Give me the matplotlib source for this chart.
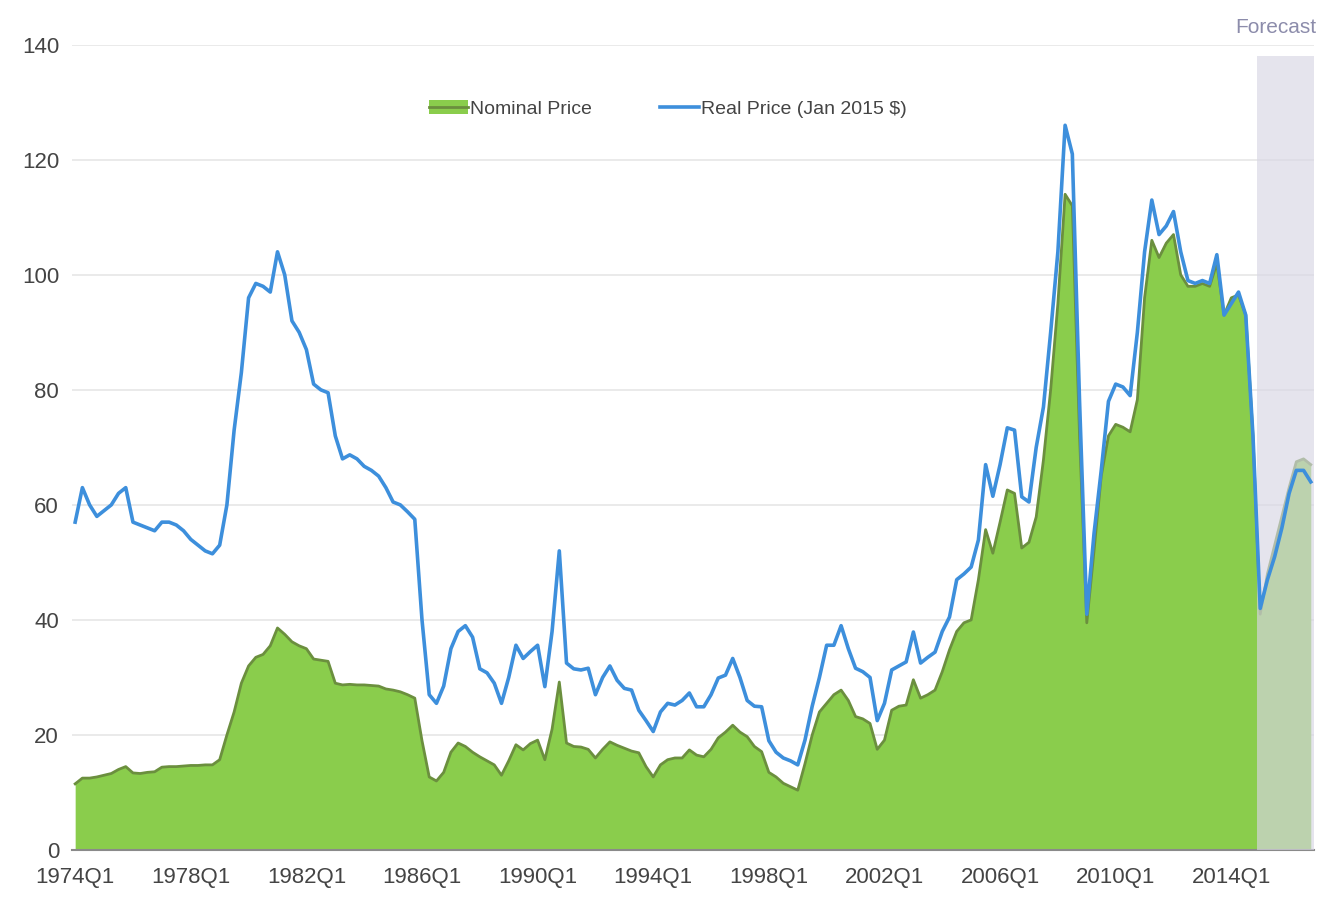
import matplotlib
matplotlib.use("Agg")
import matplotlib.pyplot as plt
from matplotlib.patches import Patch
from matplotlib.lines import Line2D

plt.rcParams['font.family'] = ['Liberation Sans Narrow', 'Liberation Sans', 'DejaVu Sans']

# quarterly data 1974Q1 .. 2016Q4 (forecast from 2015Q1)
first_year = 1974
last_year = 2016
forecast_start = "2015Q1"

# real price (Jan 2015 $), dollars per barrel
real_price = [
    57, 63, 60, 58, 59, 60, 62, 63,          # 1974-75
    57, 56.5, 56, 55.5, 57, 57, 56.5, 55.5,  # 1976-77
    54, 53, 52, 51.5, 53, 60, 73, 83,        # 1978-79
    96, 98.5, 98, 97, 104, 100, 92, 90,      # 1980-81
    87, 81, 80, 79.5, 72, 68, 68.7, 68,      # 1982-83
    66.7, 66, 65, 63, 60.5, 60, 58.8, 57.5,  # 1984-85
    40, 27, 25.5, 28.5, 35, 38, 39, 37,      # 1986-87
    31.5, 30.8, 29, 25.5, 30, 35.6, 33.3, 34.5,  # 1988-89
    35.6, 28.4, 38, 52, 32.5, 31.5, 31.3, 31.6,  # 1990-91
    27, 30, 32, 29.5, 28.1, 27.8, 24.3, 22.5,    # 1992-93
    20.6, 24, 25.5, 25.2, 26, 27.3, 24.9, 24.9,  # 1994-95
    27, 29.9, 30.4, 33.3, 30, 26, 25, 24.9,      # 1996-97
    19, 17, 16, 15.5, 14.8, 19.1, 25, 30,        # 1998-99
    35.6, 35.6, 39, 35, 31.6, 31, 30, 22.5,      # 2000-01
    25.5, 31.3, 32, 32.7, 37.9, 32.5, 33.5, 34.4,  # 2002-03
    38, 40.5, 47, 48, 49.2, 53.9, 67, 61.5,        # 2004-05
    67, 73.4, 73, 61.4, 60.5, 70, 77, 90,          # 2006-07
    104, 126, 121, 78, 41, 55, 66, 78,             # 2008-09
    81, 80.5, 79, 90, 104, 113, 107, 108.5,        # 2010-11
    111, 104, 99, 98.5, 99, 98.5, 103.5, 93,       # 2012-13
    95, 97, 93, 72, 42, 47, 51, 56,                # 2014-15
    62, 66, 66, 64,                                # 2016
]

# nominal price, dollars per barrel
nominal_price = [
    11.5, 12.5, 12.5, 12.7, 13, 13.3, 14, 14.5,
    13.4, 13.3, 13.5, 13.6, 14.4, 14.5, 14.5, 14.6,
    14.7, 14.7, 14.8, 14.8, 15.7, 20, 24, 29,
    32, 33.5, 34, 35.5, 38.6, 37.5, 36.2, 35.5,
    35, 33.2, 33, 32.8, 29, 28.7, 28.8, 28.7,
    28.7, 28.6, 28.5, 28, 27.8, 27.5, 27, 26.4,
    19, 12.7, 12, 13.5, 17, 18.6, 18, 17,
    16.2, 15.5, 14.8, 13, 15.5, 18.3, 17.4, 18.5,
    19.1, 15.7, 21, 29.2, 18.6, 18, 17.9, 17.5,
    16, 17.5, 18.8, 18.2, 17.7, 17.2, 16.9, 14.5,
    12.7, 14.8, 15.7, 16, 16, 17.4, 16.5, 16.2,
    17.5, 19.5, 20.5, 21.7, 20.5, 19.7, 18, 17.1,
    13.5, 12.7, 11.6, 11, 10.4, 15, 20, 24,
    25.5, 27, 27.8, 26, 23.2, 22.8, 22, 17.5,
    19.1, 24.3, 25, 25.2, 29.6, 26.4, 27, 27.8,
    31, 34.8, 38, 39.5, 40, 47, 55.7, 51.6,
    57, 62.6, 62, 52.5, 53.5, 57.9, 67.8, 80,
    95, 114, 112, 72, 39.5, 52, 65, 72,
    74, 73.5, 72.7, 78.3, 96, 106, 103, 105.5,
    107, 100, 98, 98, 98.5, 98, 102, 93,
    96, 96.5, 93, 72, 41, 48, 53, 58,
    63, 67.5, 68, 67,
]

quarters = ["{}Q{}".format(y, q) for y in range(first_year, last_year + 1) for q in range(1, 5)]
tick_labels = [q for q in quarters if q.endswith("Q1") and (int(q[:4]) - first_year) % 4 == 0]

x = list(range(len(quarters)))
fc_idx = quarters.index(forecast_start)

fig = plt.figure(figsize=(13.25, 9.13), dpi=100)
ax = fig.add_axes([0.054, 0.069, 0.938, 0.882])

# nominal price as a green area
ax.fill_between(x, nominal_price, 0, color="#8acd4c", linewidth=0, zorder=2)
ax.plot(x, nominal_price, color="#6b8f3e", linewidth=2, zorder=3)

# forecast band
ax.axvspan(fc_idx - 0.5, len(x) - 0.3, ymin=0, ymax=138 / 140, color="#d8d6e4",
           alpha=0.65, linewidth=0, zorder=4)
ax.text(len(x) - 0.2, 141.3, "Forecast", color="#8c8cab", fontsize=15,
        ha="right", va="bottom")

# real price line
ax.plot(x, real_price, color="#3d8fdc", linewidth=2.6, zorder=5)

ax.set_xlim(-0.5, len(x) - 0.5)
ax.set_ylim(0, 140)
ax.set_yticks(range(0, 141, 20))
ax.set_xticks([quarters.index(t) for t in tick_labels])
ax.set_xticklabels(tick_labels)
ax.tick_params(axis="both", length=0, labelsize=16, labelcolor="#444444")
ax.tick_params(axis="x", pad=12)
ax.tick_params(axis="y", pad=9)
ax.grid(axis="y", color="#e6e6e6", linewidth=1.2, zorder=0)
ax.set_axisbelow(True)
for side in ["top", "right", "left"]:
    ax.spines[side].set_visible(False)
ax.spines["bottom"].set_color("#8a8a8a")
ax.spines["bottom"].set_linewidth(1.5)

handles = [
    (Patch(facecolor="#8acd4c", edgecolor="none"), Line2D([], [], color="#6b8f3e", linewidth=2)),
    Line2D([], [], color="#3d8fdc", linewidth=2.6),
]
ax.legend(handles, ["Nominal Price", "Real Price (Jan 2015 $)"], loc="center",
          bbox_to_anchor=(0.48, 0.92), ncol=2, frameon=False, fontsize=14,
          labelcolor="#444444", handlelength=2.0, handletextpad=0.1, columnspacing=3.5)

fig.savefig("out.png", dpi=100)
